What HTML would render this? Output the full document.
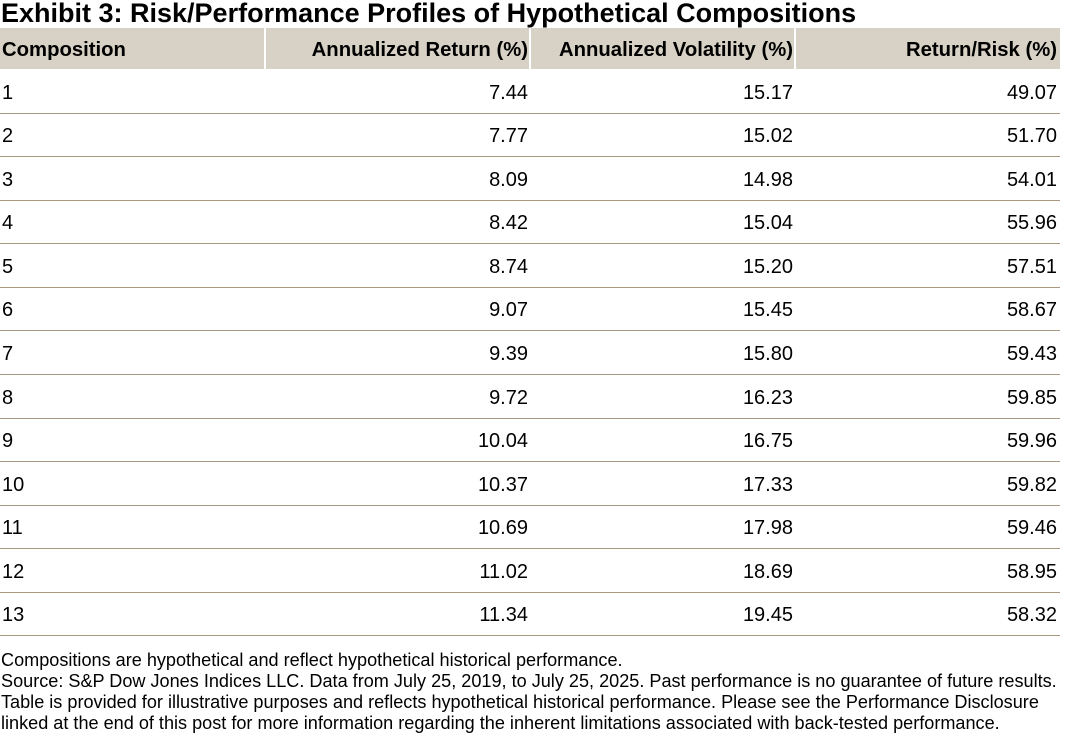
<!DOCTYPE html>
<html><head><meta charset="utf-8"><style>
body{margin:0;width:1065px;height:736px;background:#fff;font-family:"Liberation Sans",Arial,sans-serif;color:#000;position:relative;overflow:hidden}
.t{position:absolute;left:1px;top:-1px;font-size:27px;font-weight:bold;line-height:28px;white-space:nowrap}
.hdr{position:absolute;top:28px;height:41px;background:#d8d1c5}
.h{position:absolute;top:28px;height:41px;line-height:44px;font-size:20.3px;font-weight:bold;white-space:nowrap}
.r{position:absolute;left:0;width:1060px;height:43px;border-bottom:1px solid #a89a80;font-size:20px;line-height:47px}
.r span{position:absolute;white-space:nowrap}
.a{left:2px}.b{right:532px}.c{right:267px}.d{right:3px}
.f{position:absolute;left:1px;top:650px;font-size:18.1px;line-height:21px;white-space:nowrap}
</style></head><body>
<div class="t">Exhibit 3: Risk/Performance Profiles of Hypothetical Compositions</div>
<div class="hdr" style="left:0;width:264px"></div>
<div class="hdr" style="left:266px;width:263px"></div>
<div class="hdr" style="left:531px;width:263px"></div>
<div class="hdr" style="left:796px;width:264px"></div>
<div class="h" style="left:2px">Composition</div>
<div class="h" style="right:537px">Annualized Return (%)</div>
<div class="h" style="right:272px">Annualized Volatility (%)</div>
<div class="h" style="right:8px">Return/Risk (%)</div>
<div class="r" style="top:70px"><span class="a">1</span><span class="b">7.44</span><span class="c">15.17</span><span class="d">49.07</span></div>
<div class="r" style="top:113px"><span class="a">2</span><span class="b">7.77</span><span class="c">15.02</span><span class="d">51.70</span></div>
<div class="r" style="top:157px"><span class="a">3</span><span class="b">8.09</span><span class="c">14.98</span><span class="d">54.01</span></div>
<div class="r" style="top:200px"><span class="a">4</span><span class="b">8.42</span><span class="c">15.04</span><span class="d">55.96</span></div>
<div class="r" style="top:244px"><span class="a">5</span><span class="b">8.74</span><span class="c">15.20</span><span class="d">57.51</span></div>
<div class="r" style="top:287px"><span class="a">6</span><span class="b">9.07</span><span class="c">15.45</span><span class="d">58.67</span></div>
<div class="r" style="top:331px"><span class="a">7</span><span class="b">9.39</span><span class="c">15.80</span><span class="d">59.43</span></div>
<div class="r" style="top:375px"><span class="a">8</span><span class="b">9.72</span><span class="c">16.23</span><span class="d">59.85</span></div>
<div class="r" style="top:418px"><span class="a">9</span><span class="b">10.04</span><span class="c">16.75</span><span class="d">59.96</span></div>
<div class="r" style="top:462px"><span class="a">10</span><span class="b">10.37</span><span class="c">17.33</span><span class="d">59.82</span></div>
<div class="r" style="top:505px"><span class="a">11</span><span class="b">10.69</span><span class="c">17.98</span><span class="d">59.46</span></div>
<div class="r" style="top:549px"><span class="a">12</span><span class="b">11.02</span><span class="c">18.69</span><span class="d">58.95</span></div>
<div class="r" style="top:592px"><span class="a">13</span><span class="b">11.34</span><span class="c">19.45</span><span class="d">58.32</span></div>
<div class="f">Compositions are hypothetical and reflect hypothetical historical performance.<br>Source: S&amp;P Dow Jones Indices LLC. Data from July 25, 2019, to July 25, 2025. Past performance is no guarantee of future results.<br>Table is provided for illustrative purposes and reflects hypothetical historical performance. Please see the Performance Disclosure<br>linked at the end of this post for more information regarding the inherent limitations associated with back-tested performance.</div>
</body></html>
